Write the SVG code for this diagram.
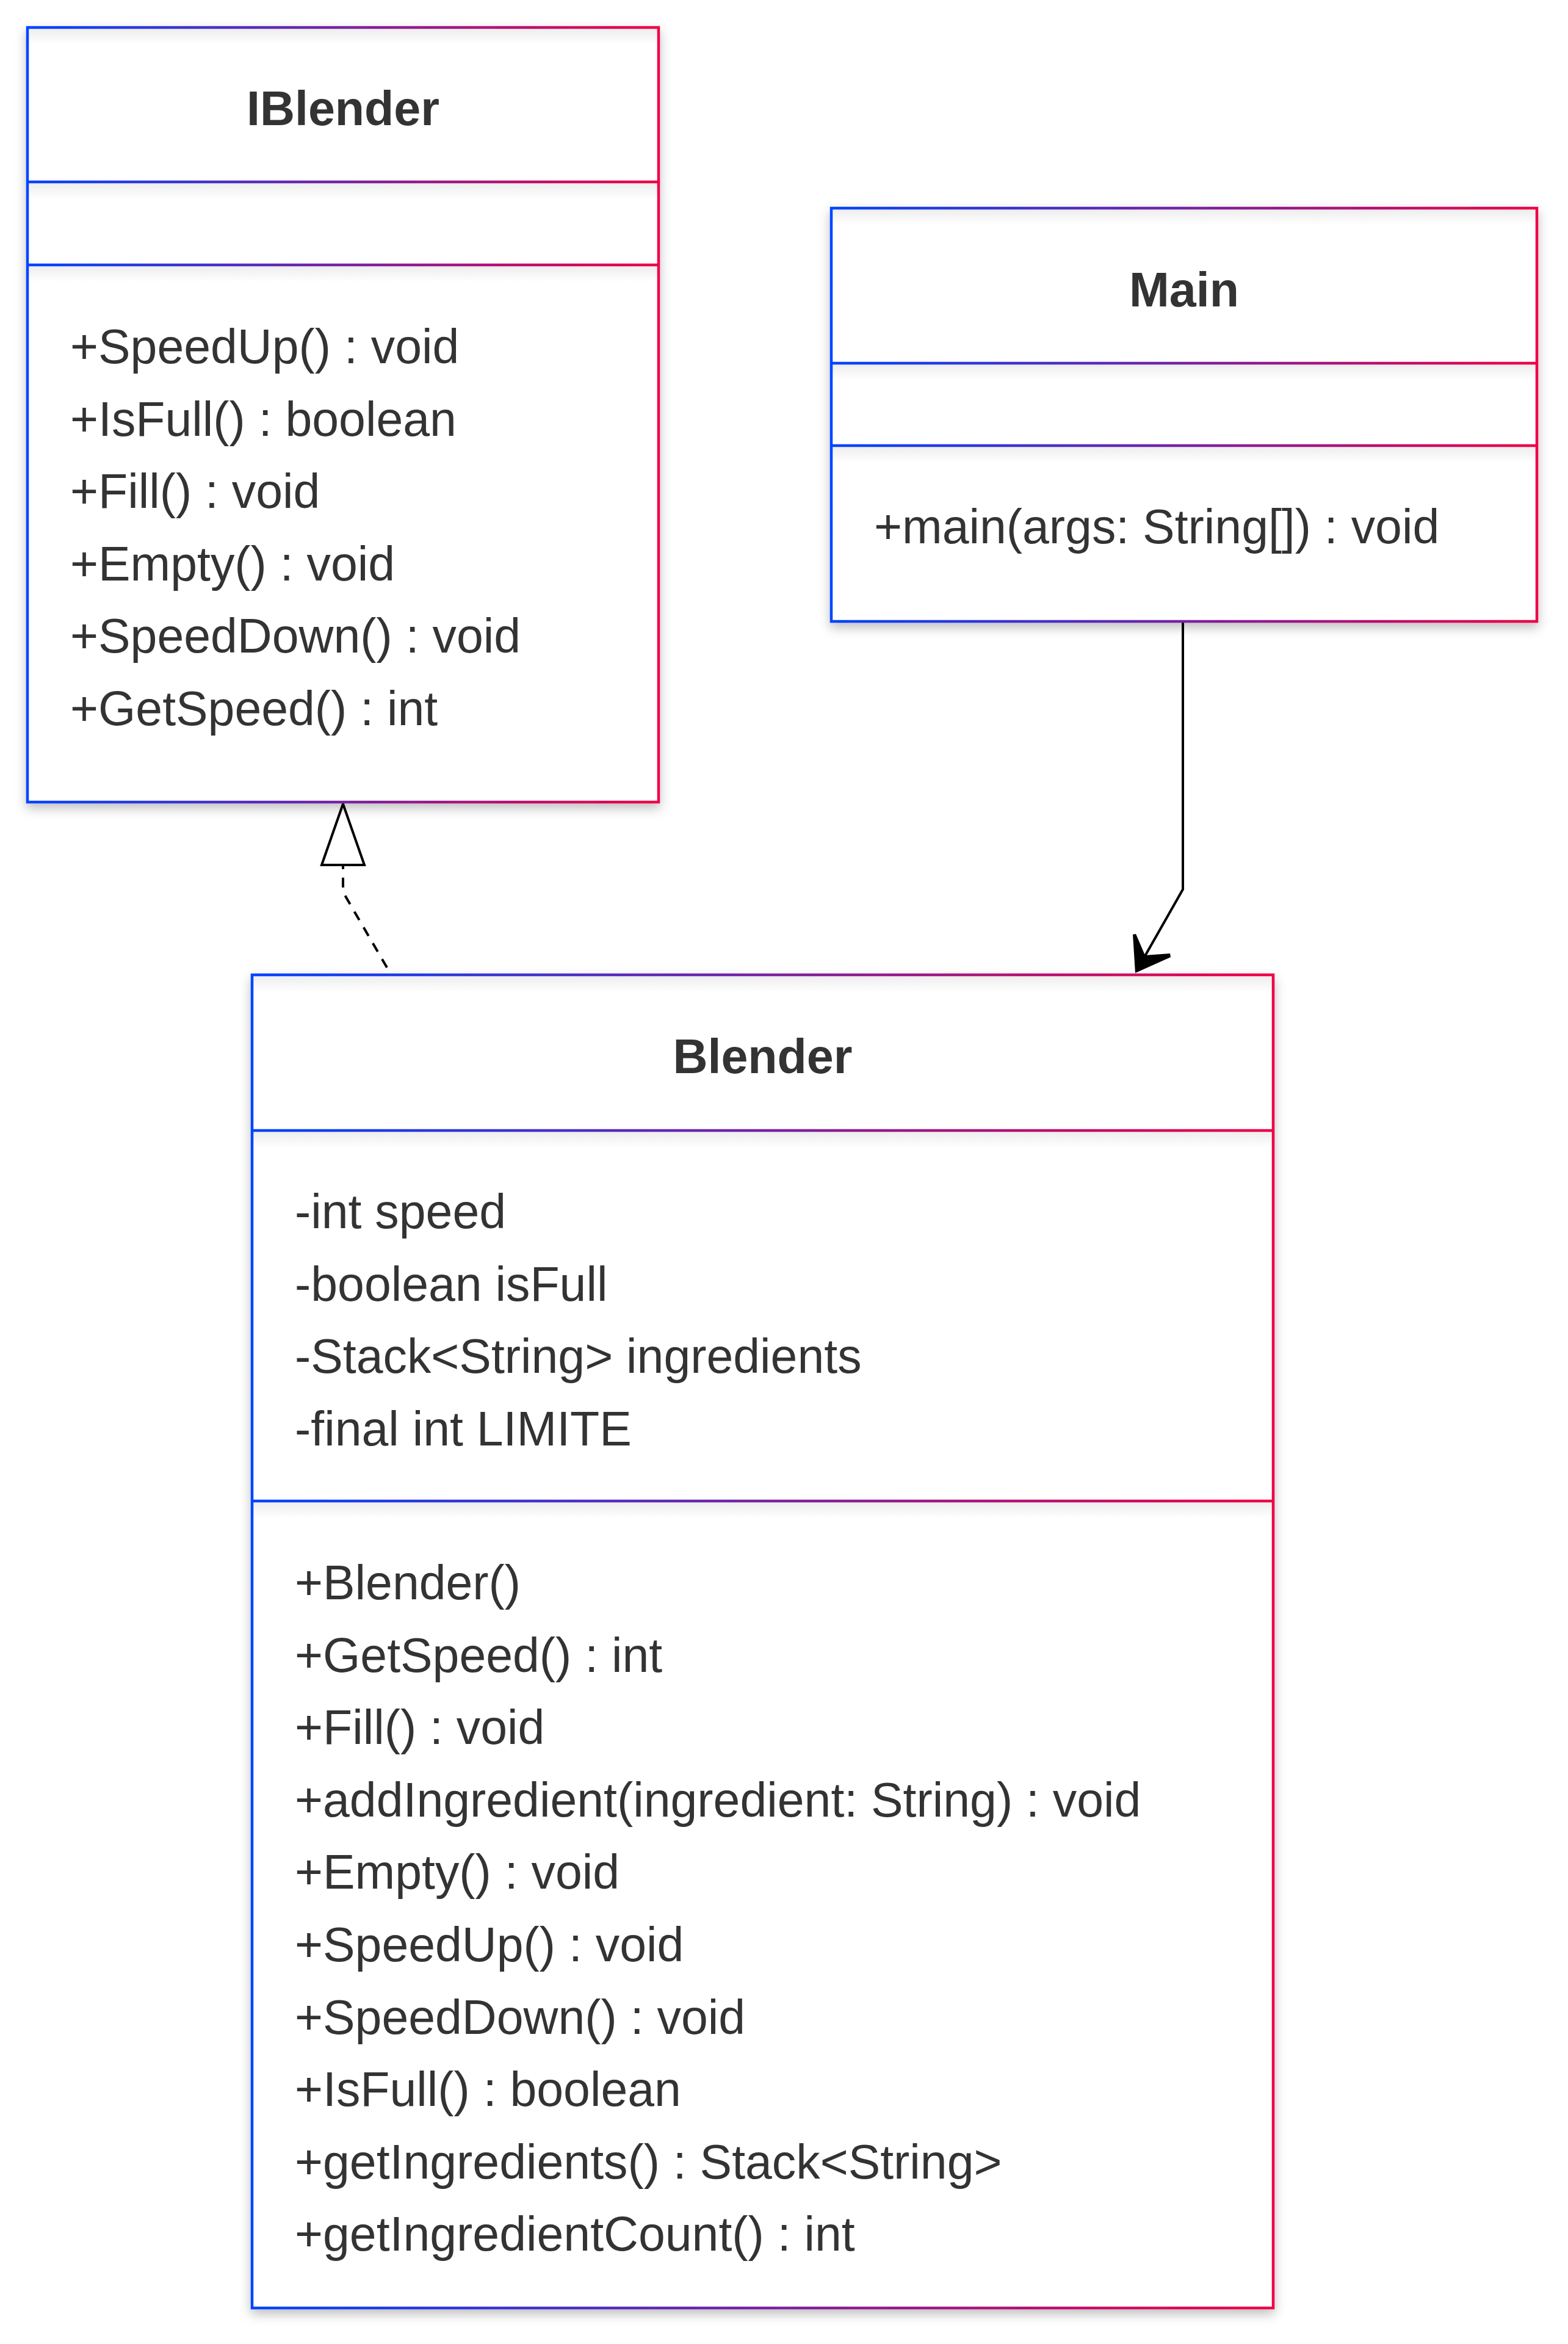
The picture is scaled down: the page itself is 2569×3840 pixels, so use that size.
<svg xmlns="http://www.w3.org/2000/svg" width="2569" height="3840" viewBox="0 0 2569 3840">
<style>
  .box { fill: #ffffff; stroke-width: 4.5; }
  .div { stroke-width: 4.5; fill: none; }
  .title { font-family: "Liberation Sans", Arial, sans-serif; font-size: 79px; font-weight: bold; fill: #333333; text-anchor: middle; }
  .mem { font-family: "Liberation Sans", Arial, sans-serif; font-size: 78.8px; fill: #333333; }
  .edge { fill: none; stroke: #000000; stroke-width: 4; }
  .topshade { fill: url(#shade); }
</style>
<defs>
  <linearGradient id="gI" gradientUnits="userSpaceOnUse" x1="45" y1="0" x2="1079" y2="0">
    <stop offset="0" stop-color="#0044ff"/><stop offset="1" stop-color="#f00046"/>
  </linearGradient>
  <linearGradient id="gM" gradientUnits="userSpaceOnUse" x1="1362" y1="0" x2="2518" y2="0">
    <stop offset="0" stop-color="#0044ff"/><stop offset="1" stop-color="#f00046"/>
  </linearGradient>
  <linearGradient id="gB" gradientUnits="userSpaceOnUse" x1="413" y1="0" x2="2086" y2="0">
    <stop offset="0" stop-color="#0044ff"/><stop offset="1" stop-color="#f00046"/>
  </linearGradient>
  <linearGradient id="shade" x1="0" y1="0" x2="0" y2="1">
    <stop offset="0" stop-color="#000" stop-opacity="0.07"/><stop offset="1" stop-color="#000" stop-opacity="0"/>
  </linearGradient>
  <filter id="shadow" x="-10%" y="-10%" width="120%" height="120%">
    <feDropShadow dx="0" dy="8" stdDeviation="9" flood-color="#000" flood-opacity="0.25"/>
  </filter>
</defs>

<g id="connectors">
  <path class="edge" d="M 634 1585 L 567 1470 Q 562 1460 562 1450 L 562 1417" stroke-dasharray="16 14"/>
  <polygon points="562,1317 527,1417 597,1417" fill="#ffffff" stroke="#000000" stroke-width="4"/>
  <path class="edge" d="M 1938 1019 L 1938 1457 L 1876 1566"/>
  <polygon points="1860,1594 1856,1531 1861,1530 1876,1565 1917,1562 1918,1568" fill="#000000"/>
</g>

<g id="IBlender">
  <rect class="box" x="45" y="45" width="1034" height="1269" stroke="url(#gI)" filter="url(#shadow)"/>
  <rect class="topshade" x="47" y="47" width="1030" height="26"/>
  <rect class="topshade" x="47" y="300" width="1030" height="26"/>
  <rect class="topshade" x="47" y="436" width="1030" height="26"/>
  <line class="div" x1="45" y1="298" x2="1079" y2="298" stroke="url(#gI)"/>
  <line class="div" x1="45" y1="434" x2="1079" y2="434" stroke="url(#gI)"/>
  <text class="title" x="562" y="205">IBlender</text>
  <text class="mem" x="115" y="595">+SpeedUp() : void</text>
  <text class="mem" x="115" y="713.6">+IsFull() : boolean</text>
  <text class="mem" x="115" y="832.2">+Fill() : void</text>
  <text class="mem" x="115" y="950.8">+Empty() : void</text>
  <text class="mem" x="115" y="1069.4">+SpeedDown() : void</text>
  <text class="mem" x="115" y="1188">+GetSpeed() : int</text>
</g>

<g id="Main">
  <rect class="box" x="1362" y="341" width="1156" height="677" stroke="url(#gM)" filter="url(#shadow)"/>
  <rect class="topshade" x="1364" y="343" width="1152" height="26"/>
  <rect class="topshade" x="1364" y="597" width="1152" height="26"/>
  <rect class="topshade" x="1364" y="732" width="1152" height="26"/>
  <line class="div" x1="1362" y1="595" x2="2518" y2="595" stroke="url(#gM)"/>
  <line class="div" x1="1362" y1="730" x2="2518" y2="730" stroke="url(#gM)"/>
  <text class="title" x="1940" y="502">Main</text>
  <text class="mem" x="1432" y="890">+main(args: String[]) : void</text>
</g>

<g id="Blender">
  <rect class="box" x="413" y="1597" width="1673" height="2184" stroke="url(#gB)" filter="url(#shadow)"/>
  <rect class="topshade" x="415" y="1599" width="1669" height="26"/>
  <rect class="topshade" x="415" y="1854" width="1669" height="26"/>
  <rect class="topshade" x="415" y="2461" width="1669" height="26"/>
  <line class="div" x1="413" y1="1852" x2="2086" y2="1852" stroke="url(#gB)"/>
  <line class="div" x1="413" y1="2459" x2="2086" y2="2459" stroke="url(#gB)"/>
  <text class="title" x="1249.5" y="1758">Blender</text>
  <text class="mem" x="483" y="2012">-int speed</text>
  <text class="mem" x="483" y="2130.6">-boolean isFull</text>
  <text class="mem" x="483" y="2249.2">-Stack&lt;String&gt; ingredients</text>
  <text class="mem" x="483" y="2367.8">-final int LIMITE</text>
  <text class="mem" x="483" y="2620">+Blender()</text>
  <text class="mem" x="483" y="2738.6">+GetSpeed() : int</text>
  <text class="mem" x="483" y="2857.2">+Fill() : void</text>
  <text class="mem" x="483" y="2975.8">+addIngredient(ingredient: String) : void</text>
  <text class="mem" x="483" y="3094.4">+Empty() : void</text>
  <text class="mem" x="483" y="3213">+SpeedUp() : void</text>
  <text class="mem" x="483" y="3331.6">+SpeedDown() : void</text>
  <text class="mem" x="483" y="3450.2">+IsFull() : boolean</text>
  <text class="mem" x="483" y="3568.8">+getIngredients() : Stack&lt;String&gt;</text>
  <text class="mem" x="483" y="3687.4">+getIngredientCount() : int</text>
</g>
</svg>
